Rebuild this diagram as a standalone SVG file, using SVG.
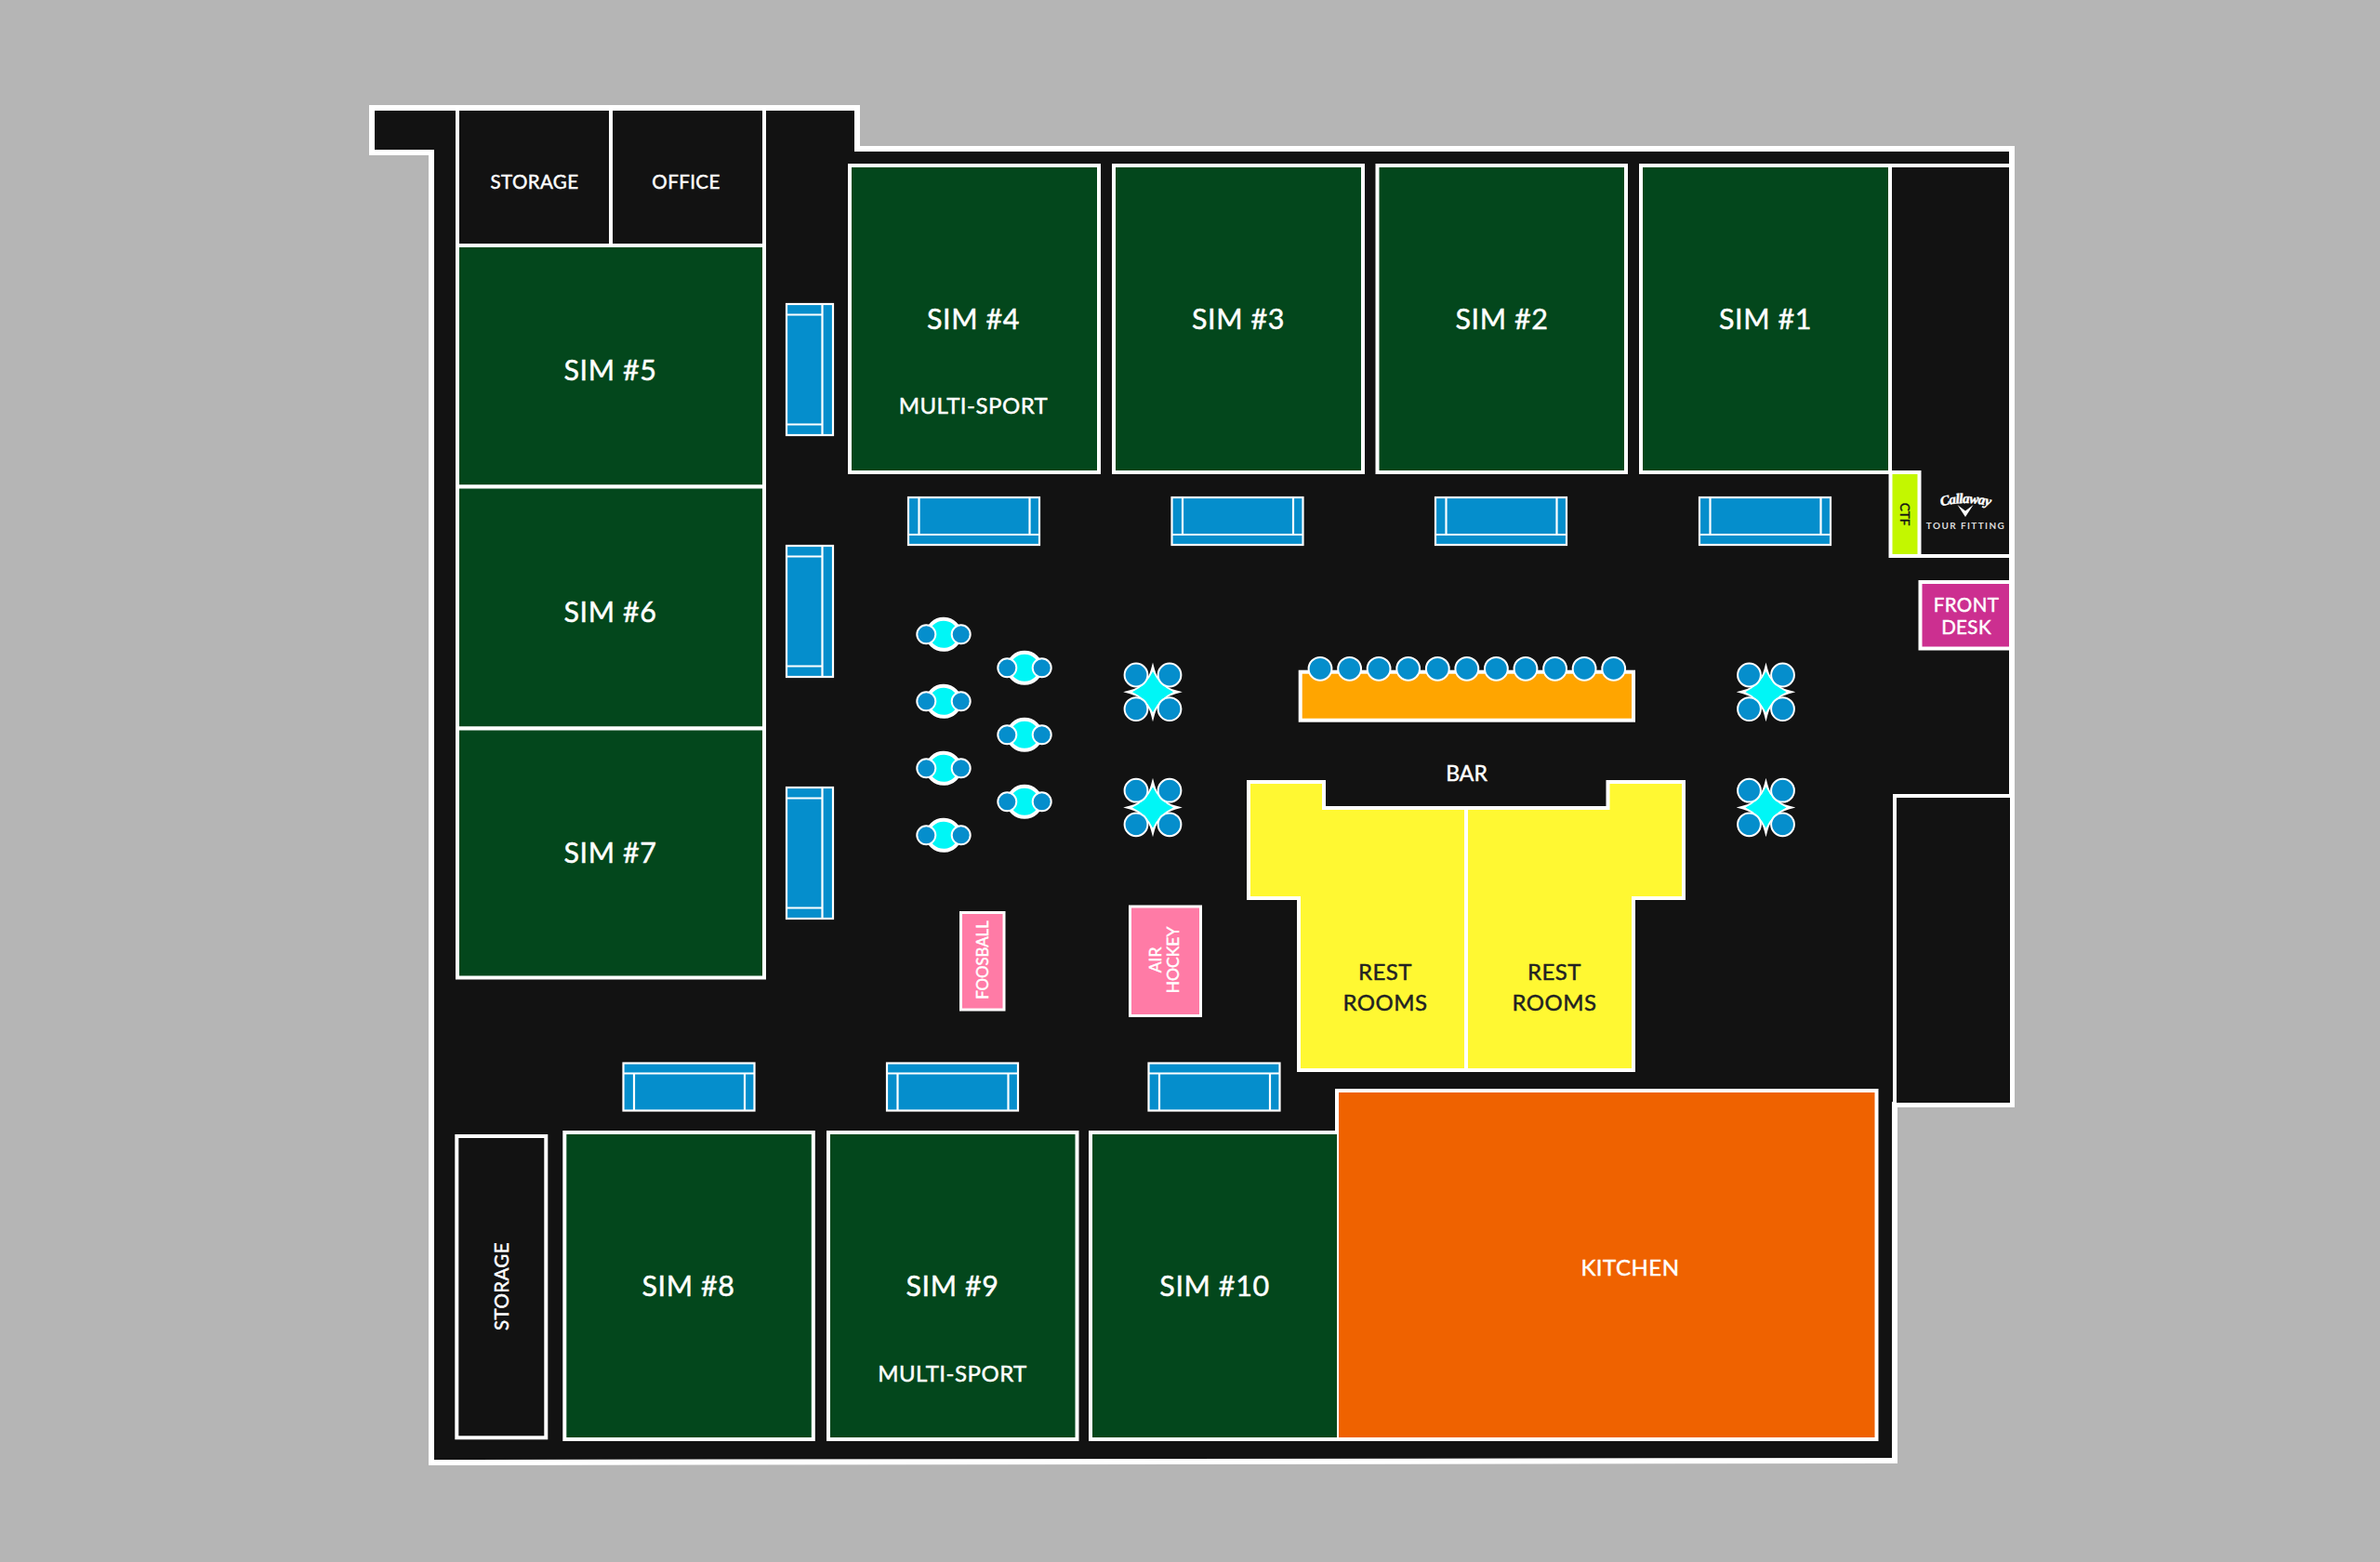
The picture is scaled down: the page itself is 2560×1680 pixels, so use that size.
<svg xmlns="http://www.w3.org/2000/svg" xmlns:xlink="http://www.w3.org/1999/xlink" width="2560" height="1680" viewBox="0 0 2560 1680">
<style>
text{font-family:"Lato","Open Sans","Liberation Sans",sans-serif;fill:#fff;stroke:#fff;stroke-width:.45;text-anchor:middle}
.sim{fill:#03471c;stroke:#fff;stroke-width:4}
.room{fill:#121212;stroke:#fff;stroke-width:4}
.l{font-size:30.500px;letter-spacing:.6px}
.m{font-size:24px;letter-spacing:.5px}
.s{font-size:20.500px;letter-spacing:.4px}
.dk{fill:#222;stroke:#222}
.pink{fill:#ff7ba6;stroke:#fff;stroke-width:3}
.cf{fill:#058ecc;stroke:#fff;stroke-width:2.2}
.ln{stroke:#fff;stroke-width:2.2;fill:none}
.seat{fill:#058ecc;stroke:#fff;stroke-width:2}
.tb{fill:#00f6f6;stroke:#fff;stroke-width:4;stroke-miterlimit:10}
</style>
<defs>
<g id="couch-h"><rect class="cf" x="0" y="0" width="141" height="51"/><path class="ln" d="M0 11H141M11.500 11V51M130.500 11V51"/></g>
<g id="couch-t"><rect class="cf" x="0" y="0" width="141" height="51"/><path class="ln" d="M0 40H141M11.500 0V40M130.500 0V40"/></g>
<g id="couch-v"><rect class="cf" x="0" y="0" width="50" height="141"/><path class="ln" d="M38.500 0V141M0 11.500H38.500M0 129.500H38.500"/></g>
<g id="t2"><ellipse class="tb" cx="0" cy="0" rx="17.500" ry="16.500"/><circle class="seat" cx="-18.700" cy="0" r="10"/><circle class="seat" cx="18.700" cy="0" r="10"/></g>
<g id="t4"><path class="tb" d="M0-24Q5-5 24 0Q5 5 0 24Q-5 5-24 0Q-5-5 0-24Z"/><path d="M0-22Q7-7 22 0Q7 7 0 22Q-7 7-22 0Q-7-7 0-22Z" fill="#00f6f6"/><circle class="seat" cx="-18" cy="-18.300" r="12.400"/><circle class="seat" cx="18" cy="-18.300" r="12.400"/><circle class="seat" cx="-18" cy="18.300" r="12.400"/><circle class="seat" cx="18" cy="18.300" r="12.400"/></g>
</defs>
<rect width="2560" height="1680" fill="#b5b5b5"/>
<path id="building" d="M400 116H922V160H2164V1188H2038V1571L464 1573V164H400Z" fill="#121212" stroke="#fff" stroke-width="6"/>
<g id="storage-top"><rect class="room" x="492" y="117" width="165" height="147"/><text class="s" x="575" y="202.500">STORAGE</text></g>
<g id="office"><rect class="room" x="657" y="117" width="165" height="147"/><text class="s" x="738" y="202.500">OFFICE</text></g>
<g id="sim5"><rect class="sim" x="492" y="264" width="330" height="259.500"/><text class="l" x="656.500" y="409">SIM #5</text></g>
<g id="sim6"><rect class="sim" x="492" y="523.500" width="330" height="260"/><text class="l" x="656.500" y="668.500">SIM #6</text></g>
<g id="sim7"><rect class="sim" x="492" y="783.500" width="330" height="268"/><text class="l" x="656.500" y="928">SIM #7</text></g>
<g id="sim4"><rect class="sim" x="914" y="178" width="268" height="330"/><text class="l" x="1047" y="354">SIM #4</text><text class="m" x="1047" y="445">MULTI-SPORT</text></g>
<g id="sim3"><rect class="sim" x="1198" y="178" width="268" height="330"/><text class="l" x="1332" y="354">SIM #3</text></g>
<g id="sim2"><rect class="sim" x="1481.500" y="178" width="267.500" height="330"/><text class="l" x="1615.500" y="354">SIM #2</text></g>
<g id="sim1"><rect class="sim" x="1765" y="178" width="268" height="330"/><text class="l" x="1899" y="354">SIM #1</text></g>
<g id="tour-fitting"><path class="ln" style="stroke-width:4" d="M2033 178H2164M2033 598H2164"/>
<rect x="2033.500" y="508" width="31" height="90" fill="#c3f700" stroke="#fff" stroke-width="4"/>
<text class="dk" transform="translate(2044 553) rotate(90)" font-size="13.500" style="fill:#121212;stroke:#121212">CTF</text>
<path id="arc" d="M2086 545Q2114 537 2142 545" fill="none"/>
<text font-size="15" font-weight="700" font-style="italic" letter-spacing="-.6" style="font-family:'Liberation Serif',serif"><textPath xlink:href="#arc" href="#arc" startOffset="50%">Callaway</textPath></text>
<path d="M2105.500 543L2114 549.500L2122.500 543L2114 556Z" fill="#fff"/>
<text x="2114.500" y="569" font-size="10" font-weight="700" letter-spacing="1.400" style="fill:#ddd;stroke:none">TOUR FITTING</text></g>
<g id="front-desk"><rect x="2065.500" y="626" width="97.500" height="71.500" fill="#cc2f90" stroke="#fff" stroke-width="4"/><text class="s" x="2115" y="658">FRONT</text><text class="s" x="2115" y="681.500">DESK</text></g>
<g id="room-right"><rect class="room" x="2038" y="856" width="126" height="332"/></g>
<g id="couches-left"><use href="#couch-v" x="846" y="327"/><use href="#couch-v" x="846" y="587"/><use href="#couch-v" x="846" y="847"/></g>
<g id="couches-top"><use href="#couch-t" x="977" y="535"/><use href="#couch-t" x="1260.500" y="535"/><use href="#couch-t" x="1544" y="535"/><use href="#couch-t" x="1828" y="535"/></g>
<g id="couches-bottom"><use href="#couch-h" x="670.500" y="1143.500"/><use href="#couch-h" x="954" y="1143.500"/><use href="#couch-h" x="1235.500" y="1143.500"/></g>
<g id="tables-two"><use href="#t2" x="1015" y="682.300"/><use href="#t2" x="1015" y="754.300"/><use href="#t2" x="1015" y="826.300"/><use href="#t2" x="1015" y="898.300"/><use href="#t2" x="1102" y="718.300"/><use href="#t2" x="1102" y="790.300"/><use href="#t2" x="1102" y="862.300"/></g>
<g id="tables-four"><use href="#t4" x="1240" y="744.300"/><use href="#t4" x="1240" y="868.500"/><use href="#t4" x="1899.500" y="744.300"/><use href="#t4" x="1899.500" y="868.500"/></g>
<g id="bar"><rect x="1398.700" y="722.700" width="358.300" height="52" fill="#ffa500" stroke="#fff" stroke-width="4"/>
<g class="seat"><circle cx="1420" cy="719.300" r="12.400"/><circle cx="1451.600" cy="719.300" r="12.400"/><circle cx="1483.100" cy="719.300" r="12.400"/><circle cx="1514.700" cy="719.300" r="12.400"/><circle cx="1546.300" cy="719.300" r="12.400"/><circle cx="1577.800" cy="719.300" r="12.400"/><circle cx="1609.400" cy="719.300" r="12.400"/><circle cx="1641" cy="719.300" r="12.400"/><circle cx="1672.600" cy="719.300" r="12.400"/><circle cx="1704.100" cy="719.300" r="12.400"/><circle cx="1735.700" cy="719.300" r="12.400"/></g>
<text x="1577.500" y="840" font-size="23">BAR</text></g>
<g id="restrooms"><path d="M1343 841H1424V869H1729.500V841H1811V966H1757V1151H1397V966H1343Z" fill="#fff832" stroke="#fff" stroke-width="4"/><path d="M1577 869V1151" stroke="#fff" stroke-width="4"/>
<text class="m dk" x="1490" y="1054">REST</text><text class="m dk" x="1490" y="1087">ROOMS</text><text class="m dk" x="1672" y="1054">REST</text><text class="m dk" x="1672" y="1087">ROOMS</text></g>
<g id="foosball"><rect class="pink" x="1033.500" y="981.500" width="46.500" height="104.500"/><text transform="translate(1063 1032.500) rotate(-90)" font-size="16.800">FOOSBALL</text></g>
<g id="air-hockey"><rect class="pink" x="1215.500" y="975" width="76" height="117.500"/><text transform="translate(1249 1032.500) rotate(-90)" font-size="17.500">AIR</text><text transform="translate(1268 1032.500) rotate(-90)" font-size="17.500">HOCKEY</text></g>
<g id="storage-bottom"><rect class="room" x="491.300" y="1222" width="96" height="324.300"/><text class="s" transform="translate(546.500 1383.500) rotate(-90)">STORAGE</text></g>
<g id="sim8"><rect class="sim" x="607.300" y="1218" width="267.500" height="330"/><text class="l" x="740.500" y="1393.500">SIM #8</text></g>
<g id="sim9"><rect class="sim" x="891" y="1218" width="267.500" height="330"/><text class="l" x="1024.500" y="1393.500">SIM #9</text><text class="m" x="1024.500" y="1486">MULTI-SPORT</text></g>
<g id="kitchen"><rect x="1438" y="1173" width="580.500" height="375" fill="#ef6200" stroke="#fff" stroke-width="4"/><text class="m" x="1753.500" y="1371.500">KITCHEN</text></g>
<g id="sim10"><path class="sim" d="M1438 1218H1173V1548H1438"/><text class="l" x="1306.500" y="1393.500">SIM #10</text></g>
</svg>
